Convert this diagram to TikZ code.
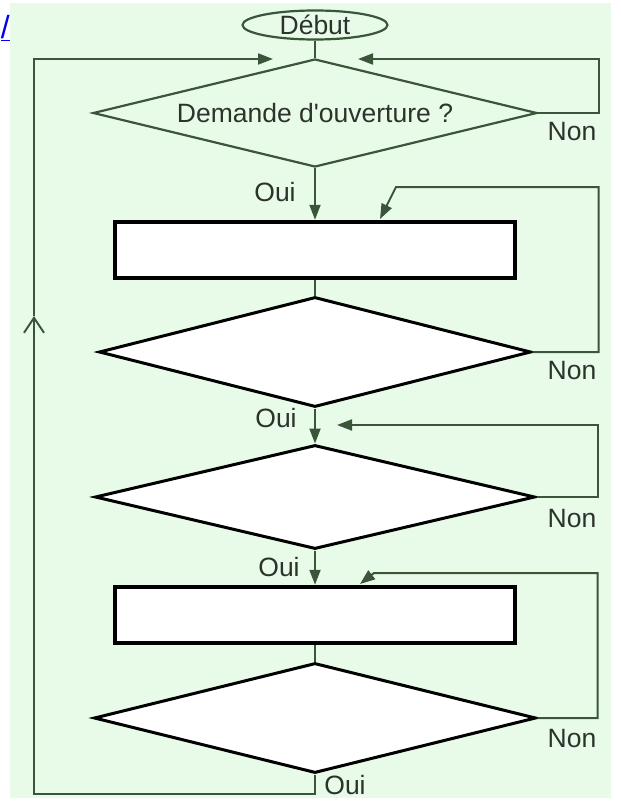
\documentclass[tikz,border=0pt]{standalone}
\usepackage{fontspec}
\setmainfont{Liberation Sans}
\usetikzlibrary{shapes.geometric,arrows.meta}

\definecolor{fond}{HTML}{E8FBE8}
\definecolor{trait}{HTML}{3A553A}
\definecolor{texte}{HTML}{2C332C}
\definecolor{lien}{HTML}{0000EE}

\tikzset{
  lab/.style={text=texte, font=\fontsize{26.5}{30}\selectfont, inner sep=0pt},
  losange/.style={diamond, draw=black, line width=3pt, fill=white, inner sep=0pt, aspect=4},
  boite/.style={rectangle, draw=black, line width=4.5pt, fill=white, minimum width=400pt, minimum height=56pt},
  fil/.style={draw=trait, line width=2pt},
  fl/.style={fil, -{Triangle[length=15pt,width=11pt]}}
}

\begin{document}
\begin{tikzpicture} [x=1pt, y=-1pt]
\useasboundingbox (0,0) rectangle (621,806);
\fill [white] (0,0) rectangle (621,806);
\fill [fond] (10,3) rectangle (611,798);

\node [text=lien, font=\fontsize{32}{34}\selectfont, inner sep=0pt, anchor=south east] (lien) at (10,41) {\underline{/}};


\node [lab, ellipse, draw=trait, line width=2.2pt, minimum width=145pt, minimum height=29pt] (debut) at (315,25) {Début};

\node [lab, losange, draw=trait, line width=2.2pt, fill=none, minimum width=444pt, minimum height=108pt] (d1) at (315,113) {Demande d\textquotesingle ouverture ?};

\node [boite] (b1) at (315,250) {};

\node [losange, minimum width=432pt, minimum height=110pt] (d2) at (315,352) {};

\node [losange, minimum width=440pt, minimum height=104pt] (d3) at (315,497) {};

\node [boite] (b2) at (315,615) {};

\node [losange, minimum width=442pt, minimum height=110pt] (d4) at (315,718) {};


% the main line
\draw [fil] (debut.south)--(d1.north);
\draw [fl] (d1.south)--(b1.north);
\draw [fil] (b1.south)--(d2.north);
\draw [fl] (d2.south)--(d3.north);
\draw [fl] (d3.south)--(b2.north);
\draw [fil] (b2.south)--(d4.north);


% the loops
\coordinate (g1) at (273,59);
\coordinate (h) at (34,316);
\draw [fil, -{Straight Barb[length=15pt,width=20pt]}] (d4.south)--++(0,19)-|(h);
\draw [fl] (h)|-(g1);

\coordinate (g2) at (358,59);
\draw [fl] (d1.east)--++(61,0)|-(g2);

\coordinate (c3) at (396,187);
\coordinate (g3) at (380,219);
\draw [fl] (d2.east)--++(66,0)|-(c3)--(g3);

\coordinate (g4) at (337,425);
\draw [fl] (d3.east)--++(61,0)|-(g4);

\coordinate (c5) at (374,573);
\coordinate (g5) at (360,584);
\draw [fl] (d4.east)--++(60,0)|-(c5)--(g5);


\node [lab] (non1) at (572,132) {Non};
\node [lab] (oui1) at (275,192) {Oui};
\node [lab] (non2) at (572,371) {Non};
\node [lab] (oui2) at (276,418) {Oui};
\node [lab] (non3) at (572,519) {Non};
\node [lab] (oui3) at (279,567) {Oui};
\node [lab] (non4) at (572,739) {Non};
\node [lab] (oui4) at (345,785) {Oui};

\end{tikzpicture}
\end{document}
